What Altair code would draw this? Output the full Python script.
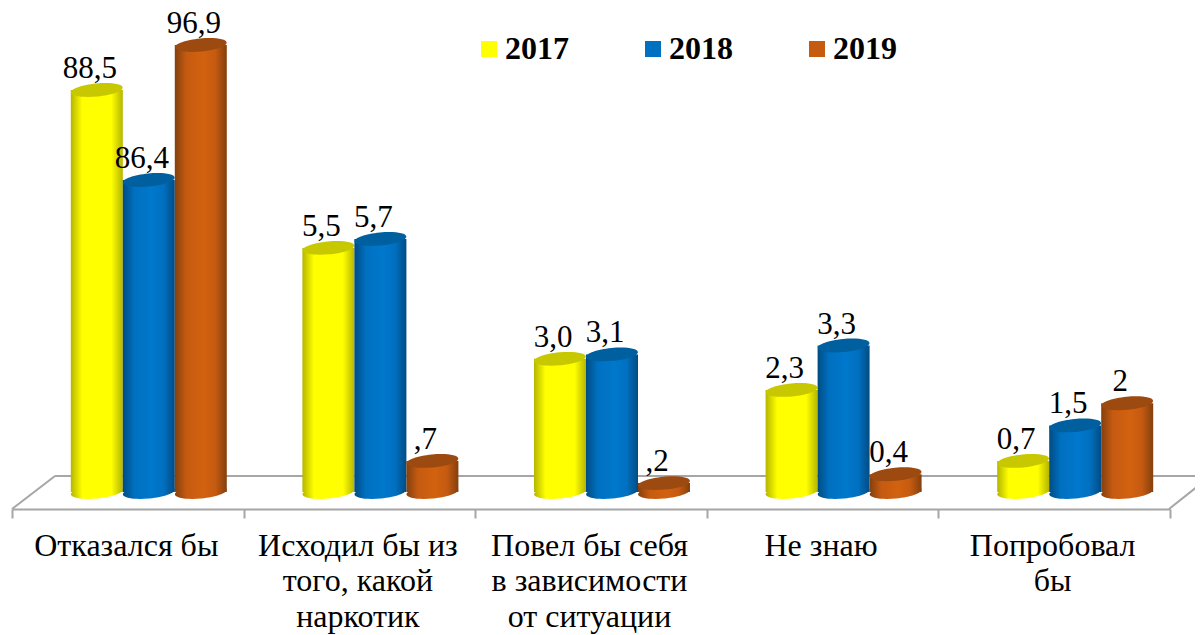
import altair as alt
import pandas as pd

categories = ["Отказался бы", "Исходил бы из|того, какой|наркотик",
              "Повел бы себя|в зависимости|от ситуации", "Не знаю", "Попробовал|бы"]
years = ["2017", "2018", "2019"]
values_2017 = [88.5, 5.5, 3.0, 2.3, 0.7]
values_2018 = [86.4, 5.7, 3.1, 3.3, 1.5]
values_2019 = [96.9, 0.7, 0.2, 0.4, 2.0]
labels_2017 = ["88,5", "5,5", "3,0", "2,3", "0,7"]
labels_2018 = ["86,4", "5,7", "3,1", "3,3", "1,5"]
labels_2019 = ["96,9", ",7", ",2", "0,4", "2"]

base_colors = ["#FFFF00", "#0070C0", "#C55A11"]
cap_colors = ["#C8C800", "#00609F", "#9C4A10"]
edge_colors = ["#B5B500", "#004C84", "#83400E"]
mid_colors = ["#FFFF00", "#0078CC", "#D2620F"]
offsets = [-31, 21, 73]
FONT = "Liberation Serif"
GRAY = "#A6A6A6"

series = [(values_2017, labels_2017), (values_2018, labels_2018), (values_2019, labels_2019)]

x_enc = alt.X("cat:N", sort=categories,
              scale=alt.Scale(domain=categories, paddingInner=0, paddingOuter=0),
              axis=alt.Axis(title=None, grid=False, labelAngle=0, labelLimit=500,
                            labelOverlap=False, labelFont=FONT, labelFontSize=32,
                            labelColor="black", labelExpr="split(datum.label, '|')",
                            labelLineHeight=35.5, labelPadding=12, labelBaseline="top",
                            labelOffset=-2,
                            tickBand="extent", tickColor=GRAY, tickWidth=2, tickSize=9,
                            domainColor=GRAY, domainWidth=2))
y_scale = alt.Scale(domain=[0, 5.7, 86.4, 88.5, 96.9], range=[484, 231, 172, 82, 37],
                    nice=False, zero=False, clamp=False)
y_enc = alt.Y("val:Q", scale=y_scale, axis=None, stack=None)
y0_enc = alt.Y("zero:Q", scale=y_scale, axis=None, stack=None)

ELLIPSE = "M-1,0 A1,0.25 0 1,1 1,0 A1,0.25 0 1,1 -1,0 Z"
dummy = pd.DataFrame({"a": [0]})


def rule(x0, x1, y0, y1):
    return alt.Chart(dummy).mark_rule(color=GRAY, strokeWidth=2).encode(
        x=alt.value(x0), x2=alt.value(x1), y=alt.value(y0), y2=alt.value(y1))


layers = [rule(0, 43, 501, 468), rule(43, 1191, 468, 468), rule(1157, 1191, 501, 474)]

for i, (vals, labs) in enumerate(series):
    df = pd.DataFrame({"cat": categories, "val": vals, "label": labs, "zero": 0.0})
    grad = alt.LinearGradient(gradient="linear", x1=0, x2=1, y1=0, y2=0, stops=[
        alt.GradientStop(color=edge_colors[i], offset=0),
        alt.GradientStop(color=base_colors[i], offset=0.22),
        alt.GradientStop(color=mid_colors[i], offset=0.55),
        alt.GradientStop(color=base_colors[i], offset=0.78),
        alt.GradientStop(color=edge_colors[i], offset=1),
    ])
    bottom = alt.Chart(df).mark_point(shape=ELLIPSE, size=2704, filled=True, opacity=1,
                                      color=grad, angle=354.5, xOffset=offsets[i]).encode(
        x=x_enc, y=y0_enc)
    body = alt.Chart(df).mark_bar(width=52, xOffset=offsets[i], color=grad).encode(
        x=x_enc, y=y_enc, y2=alt.Y2("zero:Q"))
    cap = alt.Chart(df).mark_point(shape=ELLIPSE, size=2704, filled=True, opacity=1,
                                   color=cap_colors[i], angle=354.5, xOffset=offsets[i]).encode(
        x=x_enc, y=y_enc)
    layers += [bottom, body, cap]

for i, (vals, labs) in enumerate(series):
    df = pd.DataFrame({"cat": categories, "val": vals, "label": labs})
    layers.append(alt.Chart(df).mark_text(font=FONT, fontSize=31, color="black",
                                          baseline="alphabetic", align="center",
                                          dx=offsets[i] - 7, dy=-12).encode(
        x=x_enc, y=y_enc, text="label:N"))

legend_df = pd.DataFrame({"cat": categories[0], "val": 0.0, "year": years})
layers.append(alt.Chart(legend_df).mark_square(size=0).encode(
    x=x_enc, y=y_enc,
    color=alt.Color("year:N", scale=alt.Scale(domain=years, range=base_colors),
                    legend=alt.Legend(orient="none", legendX=461, legendY=25, title=None,
                                      direction="horizontal", columns=3, columnPadding=68,
                                      symbolType="square", symbolSize=256, symbolOpacity=1,
                                      symbolStrokeWidth=0, labelFont=FONT, labelFontSize=32,
                                      labelFontWeight="bold", labelColor="black", labelOffset=0,
                                      symbolOffset=0))))

chart = alt.layer(*layers).properties(
    width=1158, height=501,
    padding={"left": 4, "top": 0, "right": 25, "bottom": 126},
    autosize=alt.AutoSizeParams(type="none"),
).configure_view(stroke=None)

chart.save("out.html", embed_options={"renderer": "svg", "actions": False})
